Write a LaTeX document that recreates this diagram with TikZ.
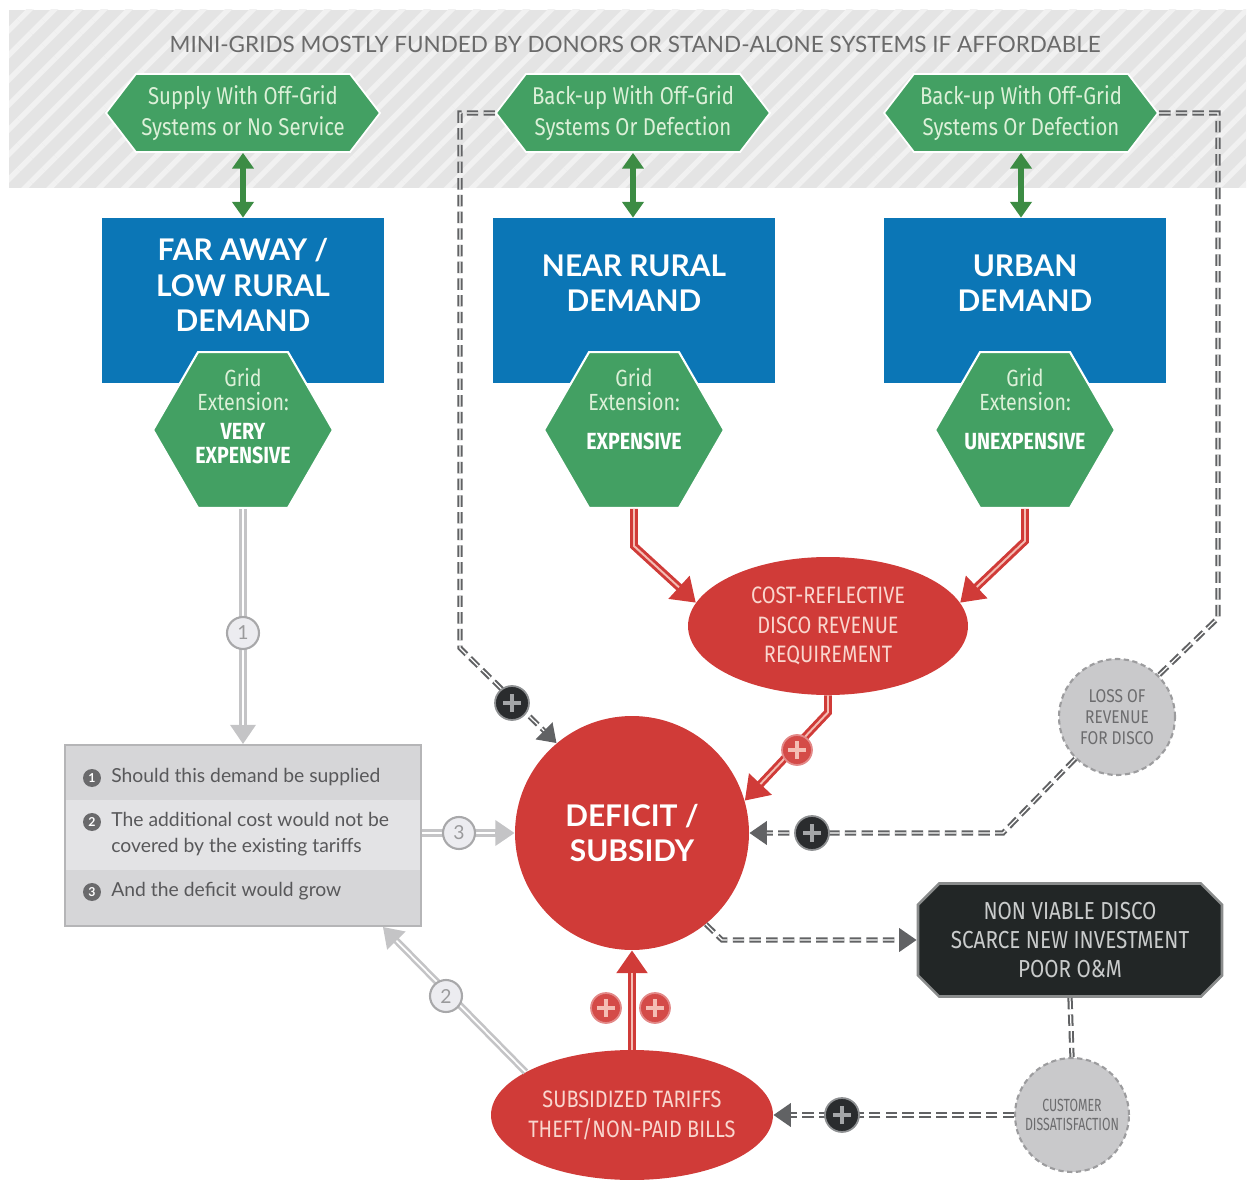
\documentclass[tikz,border=0pt]{standalone}
\usepackage{fontspec}
\setmainfont{Lato}
\newfontfamily\condfont{Fira Sans}[FakeStretch=0.84]
\newfontfamily\narrowfont{Fira Sans}[FakeStretch=0.7]
\usetikzlibrary{shapes.geometric,shapes.symbols,shapes.misc,arrows.meta,patterns.meta,calc}

\definecolor{bandgrey}{HTML}{E4E4E4}
\definecolor{stripe}{HTML}{F1F1F1}
\definecolor{titlegrey}{HTML}{6A6A6A}
\definecolor{hexgreen}{HTML}{43A063}
\definecolor{hextext}{HTML}{DCF0D8}
\definecolor{arrowgreen}{HTML}{3C8C44}
\definecolor{demandblue}{HTML}{0B76B6}
\definecolor{cashred}{HTML}{D03B38}
\definecolor{redtext}{HTML}{F9D6CE}
\definecolor{redline}{HTML}{F4BDB4}
\definecolor{dashgrey}{HTML}{616264}
\definecolor{plusblack}{HTML}{2A2C2E}
\definecolor{plusrim}{HTML}{8E9092}
\definecolor{lightarrow}{HTML}{C4C4C6}
\definecolor{numfill}{HTML}{ECECF0}
\definecolor{numrim}{HTML}{A8A8AA}
\definecolor{numtext}{HTML}{9A9A9C}
\definecolor{rowdark}{HTML}{D6D6D8}
\definecolor{rowlight}{HTML}{E3E3E5}
\definecolor{boxrim}{HTML}{B5B5B7}
\definecolor{boxtext}{HTML}{58585A}
\definecolor{bulletgrey}{HTML}{6A6A6C}
\definecolor{disco}{HTML}{222626}
\definecolor{discorim}{HTML}{8A8C8C}
\definecolor{discotext}{HTML}{C9CBCB}
\definecolor{lossgrey}{HTML}{C9C9CB}
\definecolor{lossrim}{HTML}{9C9C9E}
\definecolor{losstext}{HTML}{6C6C6E}

\newcommand{\hardline}[1]{\textcolor{white}{\bfseries #1}}

\tikzset{
 titletxt/.style={text=titlegrey, font=\fontsize{12.8}{15}\selectfont},
 offgrid/.style={shape=signal, signal to=west and east, signal pointer angle=105, fill=hexgreen, draw=white, line width=1pt, text=hextext, inner sep=0pt, minimum width=5.48cm, minimum height=1.56cm, align=center, font=\condfont\fontsize{13.8}{17.6}\selectfont},
 demand/.style={rectangle, fill=demandblue, inner sep=0pt, minimum width=5.66cm, minimum height=3.3cm},
 demandtxt/.style={text=white, align=center, font=\bfseries\fontsize{17}{20}\selectfont},
 gridhex/.style={regular polygon, regular polygon sides=6, fill=hexgreen, draw=white, line width=1.2pt, inner sep=0pt, minimum size=3.6cm},
 gridtxt/.style={text=hextext, align=center, font=\condfont\fontsize{13.3}{13.7}\selectfont},
 twoway/.style={draw=arrowgreen, line width=3pt, >={Triangle[length=9pt,width=12pt]}, <->},
 redarrow/.style={draw=cashred, line width=4.5pt, -{Triangle[length=13pt,width=17pt]}, postaction={draw=redline, line width=1.1pt, arrows=-, shorten >=13pt}},
 dashline/.style={draw=dashgrey, line width=3pt, dash pattern=on 6.5pt off 3pt, postaction={draw=white, line width=0.7pt}},
 dasharrow/.style={draw=dashgrey, line width=3pt, dash pattern=on 6.5pt off 3pt, -{Triangle[length=10pt,width=13pt]}, postaction={draw=white, line width=0.7pt, arrows=-, shorten >=10pt}},
 greyarrow/.style={draw=lightarrow, line width=4pt, -{Triangle[length=11pt,width=14pt]}, postaction={draw=white, line width=1pt, arrows=-, shorten >=11pt}},
 redoval/.style={ellipse, fill=cashred, text=redtext, inner sep=0pt, align=center, font=\condfont\fontsize{13.5}{17}\selectfont},
 deficit/.style={circle, fill=cashred, text=white, inner sep=0pt, minimum size=4.68cm, align=center, font=\bfseries\fontsize{17}{20}\selectfont},
 lossdot/.style={circle, fill=lossgrey, draw=lossrim, line width=1.2pt, dash pattern=on 3pt off 2pt, text=losstext, inner sep=0pt, align=center, font=\condfont\fontsize{10.5}{12}\selectfont},
 disco/.style={chamfered rectangle, chamfered rectangle xsep=6pt, chamfered rectangle ysep=6pt, fill=disco, draw=discorim, line width=1.5pt, text=discotext, inner sep=0pt, minimum width=6.08cm, minimum height=2.26cm, align=center, font=\condfont\fontsize{14}{16.5}\selectfont},
 infobox/.style={rectangle, draw=boxrim, line width=1pt, inner sep=0pt, minimum width=7.12cm, minimum height=3.62cm},
 rowtxt/.style={text=boxtext, inner sep=0pt, align=left, font=\fontsize{11}{14.8}\selectfont},
 bullet/.style={circle, fill=bulletgrey, text=white, inner sep=0pt, minimum size=0.36cm, font=\bfseries\fontsize{7}{7}\selectfont},
 numdot/.style={circle, fill=numfill, draw=numrim, line width=1.2pt, text=numtext, inner sep=0pt, minimum size=0.64cm, font=\fontsize{11}{11}\selectfont},
 plusmark/.style={path picture={\draw[#1, line width=1.8pt]
   ([xshift=-5pt]path picture bounding box.center) -- ([xshift=5pt]path picture bounding box.center)
   ([yshift=-5pt]path picture bounding box.center) -- ([yshift=5pt]path picture bounding box.center);}},
 blackplus/.style={circle, fill=plusblack, draw=plusrim, line width=1pt, inner sep=0pt, minimum size=0.68cm, plusmark=plusrim!80!white},
 redplus/.style={circle, fill=cashred!92!white, draw=cashred!60!white, line width=1pt, inner sep=0pt, minimum size=0.6cm, plusmark=redline}
}

\begin{document}
\begin{tikzpicture}[x=0.02cm,y=-0.02cm]
\useasboundingbox (0,0) rectangle (1248,1182);

% striped band on top
\fill[bandgrey] (9,10) rectangle (1246,188);
\fill[pattern={Lines[angle=45,distance=10pt,line width=3pt]}, pattern color=stripe] (9,10) rectangle (1246,188);
\node[titletxt] (title) at (635,44) {MINI-GRIDS MOSTLY FUNDED BY DONORS OR STAND-ALONE SYSTEMS IF AFFORDABLE};

\node[offgrid] (h1) at (243,113) {Supply With Off-Grid\\Systems or No Service};
\node[offgrid] (h2) at (633,113) {Back-up With Off-Grid\\Systems Or Defection};
\node[offgrid] (h3) at (1021,113) {Back-up With Off-Grid\\Systems Or Defection};

% demand boxes
\node[demand] (far) at (243,300.5) {};
\node[demand] (near) at (634,300.5) {};
\node[demand] (urban) at (1025,300.5) {};
\node[demandtxt] (farT) at (243,285) {FAR AWAY /\\LOW RURAL\\DEMAND};
\node[demandtxt] (nearT) at (634,283) {NEAR RURAL\\DEMAND};
\node[demandtxt] (urbanT) at (1025,283) {URBAN\\DEMAND};

\node[gridhex] (g1) at (243,430) {};
\node[gridhex] (g2) at (634,430) {};
\node[gridhex] (g3) at (1025,430) {};
\node[gridtxt] (g1T) at (243,416) {Grid\\Extension:\\[3pt]\hardline{VERY}\\\hardline{EXPENSIVE}};
\node[gridtxt] (g2T) at (634,409) {Grid\\Extension:\\[8pt]\hardline{EXPENSIVE}};
\node[gridtxt] (g3T) at (1025,409) {Grid\\Extension:\\[8pt]\hardline{UNEXPENSIVE}};

\draw[twoway] (h1.south) -- (far.north);
\draw[twoway] (h2.south) -- (h2.south |- near.north);
\draw[twoway] (h3.south) -- (h3.south |- urban.north);

% red part
\node[redoval, minimum width=5.6cm, minimum height=2.76cm] (cost) at (828,626) {COST-REFLECTIVE\\DISCO REVENUE\\REQUIREMENT};
\node[deficit] (deficit) at (632,833) {DEFICIT /\\SUBSIDY};
\node[redoval, minimum width=5.64cm, minimum height=2.6cm, inner xsep=-25pt] (subs) at (632,1115) {SUBSIDIZED TARIFFS\\THEFT/NON-PAID BILLS};

% info box
\fill[rowdark] (65,745) rectangle (421,800);
\fill[rowlight] (65,800) rectangle (421,870);
\fill[rowdark] (65,870) rectangle (421,926);
\node[infobox] (box) at (243,835.5) {};
\node[bullet] (n1) at (92,778) {1};
\node[bullet] (n2) at (92,822) {2};
\node[bullet] (n3) at (92,892) {3};
\node[rowtxt, anchor=west] (t1) at (111,777) {Should this demand be supplied};
\node[rowtxt, anchor=west] (t2) at (111,834) {The additional cost would not be\\covered by the existing tariffs};
\node[rowtxt, anchor=west] (t3) at (111,891) {And the deficit would grow};

% grey circles and dark box
\node[lossdot, minimum size=2.32cm] (loss) at (1117,717) {LOSS OF\\REVENUE\\FOR DISCO};
\node[lossdot, minimum size=2.28cm, font=\narrowfont\fontsize{10}{11}\selectfont] (cust) at (1072,1115) {CUSTOMER\\DISSATISFACTION};
\node[disco] (viable) at (1070,940) {NON VIABLE DISCO\\SCARCE NEW INVESTMENT\\POOR O\&M};

% connectors
\draw[redarrow] (g2.south) -- ++(0,37) -- (cost.170);
\draw[redarrow] (g3.south) -- ++(0,32) -- (cost.10);
\draw[redarrow] (cost.south) -- ++(0,17) -- (deficit.16);
\draw[redarrow] (subs.north) -- (deficit.south);

\draw[greyarrow] (g1.south) -- (box.north);
\draw[greyarrow] (box.east |- deficit.west) -- (deficit.west);
\draw[greyarrow] (subs.158) -- ($(box.south east)+(-39,0)$);

\draw[dasharrow] (h2.west) -- (460,113) -- (460,648) -- (deficit.130);
\draw[dashline] (h3.east) -- (1218,113) -- (1218,618) -- (loss.45);
\draw[dasharrow] (loss.225) -- (1003,833) -- (deficit.east);
\draw[dasharrow] (deficit.-51) -- (722,940) -- (viable.west);
\draw[dashline] (viable.south) -- (cust.north);
\draw[dasharrow] (cust.west) -- (subs.east);

% signs on the connectors
\node[numdot] (c1) at (243,633) {1};
\node[numdot] (c2) at (446,996) {2};
\node[numdot] (c3) at (459,833) {3};
\node[blackplus] (p1) at (512,703) {};
\node[blackplus] (p2) at (812,833) {};
\node[blackplus] (p3) at (842,1115) {};
\node[redplus] (q1) at (797,750) {};
\node[redplus] (q2) at (606,1008) {};
\node[redplus] (q3) at (655,1008) {};
\end{tikzpicture}
\end{document}
